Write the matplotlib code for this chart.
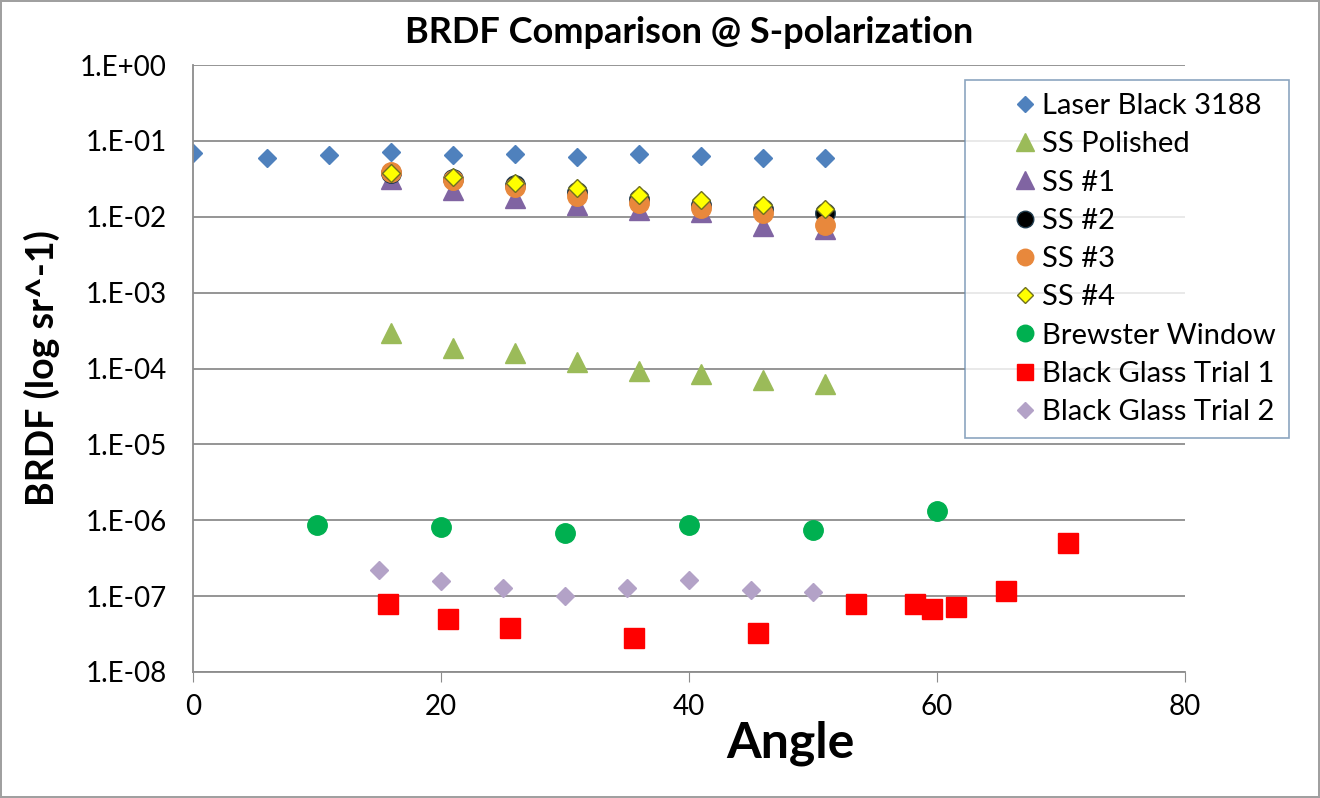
import numpy as np
import matplotlib.pyplot as plt
from matplotlib.ticker import FixedLocator, FuncFormatter

plt.rcParams['font.family'] = ['Lato', 'DejaVu Sans']

# angulos y valores
ang_laser = [0, 6, 11, 16, 21, 26, 31, 36, 41, 46, 51]
laser_black = [0.069, 0.060, 0.065, 0.071, 0.065, 0.067, 0.061, 0.067, 0.064, 0.060, 0.060]

ang_ss = [16, 21, 26, 31, 36, 41, 46, 51]
ss_polished = [2.94e-4, 1.87e-4, 1.61e-4, 1.22e-4, 9.3e-5, 8.5e-5, 7.1e-5, 6.3e-5]
ss1 = [0.0315, 0.0225, 0.0177, 0.0143, 0.0123, 0.0116, 0.0076, 0.0069]
ss2 = [0.038, 0.031, 0.026, 0.021, 0.017, 0.0145, 0.0125, 0.0112]
ss3 = [0.039, 0.0305, 0.0247, 0.0188, 0.0152, 0.0131, 0.0112, 0.0078]
ss4 = [0.0378, 0.0334, 0.0279, 0.024, 0.0194, 0.0166, 0.0143, 0.0127]

ang_brew = [10, 20, 30, 40, 50, 60]
brewster = [8.7e-7, 8.2e-7, 6.8e-7, 8.7e-7, 7.5e-7, 1.33e-6]

ang_bg1 = [15.7, 20.6, 25.6, 35.6, 45.6, 53.5, 58.2, 59.6, 61.5, 65.6, 70.6]
black_glass1 = [7.9e-8, 5.0e-8, 3.8e-8, 2.8e-8, 3.3e-8, 7.9e-8, 7.9e-8, 6.8e-8, 7.2e-8, 1.17e-7, 5.0e-7]

ang_bg2 = [15, 20, 25, 30, 35, 40, 45, 50]
black_glass2 = [2.22e-7, 1.59e-7, 1.29e-7, 1.01e-7, 1.29e-7, 1.64e-7, 1.21e-7, 1.14e-7]

fig = plt.figure(figsize=(13.2, 7.98), dpi=100)
fig.patch.set_edgecolor('#a0a0a0')
fig.patch.set_linewidth(1.5)
ax = fig.add_axes([193/1320, 1-672/798, 992/1320, 607/798])

ax.plot(ang_laser, laser_black, 'D', color='#4F81BD', ms=9.5, mec='#4F81BD', label='Laser Black 3188')
ax.plot(ang_ss, ss_polished, '^', color='#9BBB59', ms=15, mec='#9BBB59', label='SS Polished')
ax.plot(ang_ss, ss1, '^', color='#8064A2', ms=15, mec='#8064A2', label='SS #1')
ax.plot(ang_ss, ss2, 'o', color='black', ms=14, mec='#1F3B4D', label='SS #2')
ax.plot(ang_ss, ss3, 'o', color='#E8883C', ms=14, mec='#E8883C', label='SS #3')
ax.plot(ang_ss, ss4, 'D', color='#FFFF00', ms=9.5, mec='#707020', mew=1, label='SS #4')
ax.plot(ang_brew, brewster, 'o', color='#00B050', ms=14, mec='#00B050', label='Brewster Window')
ax.plot(ang_bg1, black_glass1, 's', color='#FF0000', ms=14, mec='#FF0000', label='Black Glass Trial 1')
ax.plot(ang_bg2, black_glass2, 'D', color='#B3A2C7', ms=9, mec='#B3A2C7', label='Black Glass Trial 2')

ax.set_yscale('log')
ax.set_ylim(1e-8, 1)
ax.set_xlim(0, 80)
ax.xaxis.set_major_locator(FixedLocator([0, 20, 40, 60, 80]))
ax.yaxis.set_major_locator(FixedLocator([10.0**k for k in range(-8, 1)]))
ax.yaxis.set_minor_locator(FixedLocator([]))
ax.yaxis.set_major_formatter(FuncFormatter(lambda v, p: '1.E%+03d' % int(round(np.log10(v)))))
ax.grid(axis='y', color='#8c8c8c', lw=1.3)
ax.set_axisbelow(True)
for s in ['top', 'right']:
    ax.spines[s].set_visible(False)
for s in ['left', 'bottom']:
    ax.spines[s].set_color('#8c8c8c')
    ax.spines[s].set_linewidth(1.3)
ax.tick_params(axis='x', direction='out', length=7, color='#8c8c8c', labelsize=20, pad=9)
ax.tick_params(axis='y', direction='out', length=0, labelsize=20, pad=19)

ax.set_title('BRDF Comparison @ S-polarization', fontsize=26, fontweight='bold', pad=16)
ax.set_ylabel('BRDF (log sr^-1)', fontsize=27, fontweight='bold', labelpad=14)
ax.set_xlabel('Angle', fontsize=36, fontweight='bold')
ax.xaxis.set_label_coords(0.602, -0.08)

leg = fig.legend(loc='upper left', bbox_to_anchor=(965/1320, 1-80/798), fontsize=21,
                 frameon=True, fancybox=False, edgecolor='#6f8fb0', borderpad=0.45,
                 labelspacing=0.42, handletextpad=-1.0, handlelength=3.2, markerscale=0.85,
                 borderaxespad=0)
leg.get_frame().set_linewidth(1.2)

plt.savefig('out.png', dpi=100)
